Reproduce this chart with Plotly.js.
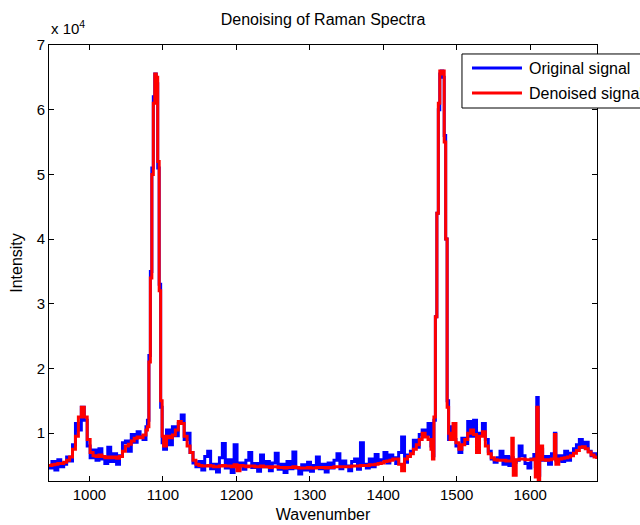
<!DOCTYPE html>
<html>
<head>
<meta charset="utf-8">
<script src="https://cdn.plot.ly/plotly-3.0.1.min.js"></script>
<style>html,body{margin:0;padding:0;background:#fff;}#chart{width:640px;height:525px;}</style>
</head>
<body>
<div id="chart"></div>
<script>
// Wavenumber axis samples (cm^-1)
var wavenumber = [
 945,949,953,957,961,965,969,973,977,981,985,989,993,997,
 1001,1005,1009,1013,1017,1021,1025,1029,1033,1037,1041,1045,1049,1053,1057,1061,1065,1069,1073,1077,
 1079,1081,1083,1085,1087,1089,1091,1093,1095,1097,1099,
 1101,1105,1109,1113,1117,1121,1125,1129,1133,1137,1141,1145,
 1149,1153,1157,1161,1165,1169,1173,1177,1181,1185,1189,1193,1197,
 1201,1205,1209,1213,1217,1221,1225,1229,1233,1237,1241,1245,1249,1253,1257,1261,1265,1269,1273,1277,1281,1285,1289,1293,1297,
 1301,1305,1309,1313,1317,1321,1325,1329,1333,1337,1341,1345,1349,1353,1357,1361,1365,1369,1373,1377,1381,1385,1389,1393,1397,
 1401,1405,1409,1413,1417,1421,1425,1429,1433,1437,1441,1445,1449,1453,1457,1461,1465,1467,
 1469,1471,1473,1475,1477,1479,1481,1483,1485,1487,1489,
 1491,1495,1499,1503,1507,1511,1515,1519,1523,1527,1531,1535,1539,1543,1547,
 1551,1555,1559,1563,1567,1571,1575,1577,1581,1585,1589,1593,1597,
 1601,1605,1607,1609,1611,1613,1617,1621,1625,1629,1633,1635,1639,1643,1647,
 1651,1655,1659,1663,1667,1671,1675,1679,1683,1687,1691
];

// Original (noisy) signal intensity
var originalSignal = [
 4600,5600,4300,5900,4800,5200,6300,5700,8200,11500,10500,14000,12000,8000,
 6200,7400,5800,7600,6000,5300,7800,5600,6800,5200,6500,8500,8800,7200,9800,8600,10200,9500,9000,11000,
 12000,22000,35000,51000,62000,65500,64000,51000,33000,14000,8500,
 7500,10500,8200,11000,9600,11500,12800,9000,10000,7000,5400,4800,
 5600,4300,6400,7200,4500,5200,4000,6200,8400,4600,5900,3900,8200,
 5000,5400,4400,5800,7000,4700,5300,4100,6600,4800,5600,4200,5400,6900,4400,5200,3900,5600,4500,7100,4600,3700,5100,4300,5500,
 4100,5000,6300,4500,5200,4000,5400,4600,5800,6800,4500,5700,4900,4200,5600,6000,4400,8500,5200,4600,6000,4800,6700,5300,5900,
 7000,5400,6600,6200,5300,7000,9400,5500,6600,7200,8900,7800,9800,10500,9800,11500,8000,6500,
 12000,28000,44000,60000,65500,66000,65000,56000,40000,15000,9000,
 11000,9000,8000,7000,9200,8400,11800,9500,12000,8600,10000,11500,9000,7200,6000,
 5500,6200,7200,5200,6400,5000,6200,5500,5800,8000,6500,5300,4600,
 6000,6700,4800,15500,3500,7500,5800,6400,5200,6800,10000,5800,6500,5600,7200,
 5800,6900,7600,8200,9000,7800,8600,7200,6500,6800,6000
];

// Denoised signal intensity
var denoisedSignal = [
 5000,5100,5200,5300,5300,5500,5800,6300,7500,9500,12500,14000,12500,9000,
 7000,6500,6400,6600,6400,6200,6300,6200,6300,6100,6400,7200,8000,8300,8800,9200,9400,9300,9700,10500,
 11000,21000,34000,50000,61000,65500,65000,52000,32000,15000,9500,
 8000,9500,9300,9700,10500,11800,11500,9500,8000,7000,5800,5200,
 5000,4900,4900,5000,4900,4800,4800,4900,5000,4900,4900,4800,5100,
 4200,5000,4900,4800,4900,4900,4800,4800,4900,4800,4800,4700,4800,4800,4700,4700,4600,4700,4700,4800,4700,4600,4600,4600,4700,
 4600,4600,4700,4700,4700,4600,4700,4700,4800,4800,4800,4800,4800,4800,4900,4900,4900,5000,5000,5000,5100,5100,5200,5300,5400,
 5600,5700,5800,6000,6000,5200,4200,6000,6400,6800,7500,8200,9000,10000,9400,9000,7500,6000,
 12500,28000,44000,61000,66000,65500,66000,55000,40000,14000,10000,
 9000,11500,8500,7500,8200,9000,10000,10500,9800,7000,9500,10200,8000,6800,6200,
 5900,5800,5800,5800,5700,5700,9200,3500,5900,6000,6000,5900,5900,
 5900,6000,3200,14000,2800,8000,5900,5800,5900,6000,9800,5200,6000,6100,6200,
 6300,6500,6900,7300,7800,7900,7600,7100,6600,6300,6000
];

var xTicks = [1000, 1100, 1200, 1300, 1400, 1500, 1600];
var yTicks = [10000, 20000, 30000, 40000, 50000, 60000, 70000];
var yTickText = ['1', '2', '3', '4', '5', '6', '7'];
var seriesNames = ['Original signal', 'Denoised signal'];

var FONT = 'Liberation Sans, Arial, sans-serif';

var traces = [
  {x: wavenumber, y: originalSignal, type: 'scatter', mode: 'lines', name: seriesNames[0],
   line: {color: 'rgb(0,0,255)', width: 3, shape: 'hv'}, showlegend: false, hoverinfo: 'skip'},
  {x: wavenumber, y: denoisedSignal, type: 'scatter', mode: 'lines', name: seriesNames[1],
   line: {color: 'rgb(255,0,0)', width: 3, shape: 'hv'}, showlegend: false, hoverinfo: 'skip'}
];

// legend box geometry in paper coordinates
var lgX0 = 0.7536, lgX1 = 1.2, lgY0 = 0.8555, lgY1 = 0.9794;
var lineX0 = 0.7719, lineX1 = 0.8631, textX = 0.8723;
var rowY = [0.9472, 0.8899];
var rowColor = ['rgb(0,0,255)', 'rgb(255,0,0)'];

var shapes = [
  {type: 'rect', xref: 'paper', yref: 'paper', x0: lgX0, x1: lgX1, y0: lgY0, y1: lgY1,
   fillcolor: '#ffffff', line: {color: '#000000', width: 1}, layer: 'above'}
];
var annotations = [
  {xref: 'paper', yref: 'paper', x: 0, y: 1.039, xanchor: 'left', yanchor: 'middle',
   text: 'x 10<sup>4</sup>', showarrow: false, font: {family: FONT, size: 15, color: '#000'}}
];
for (var i = 0; i < 2; i++) {
  shapes.push({type: 'line', xref: 'paper', yref: 'paper', x0: lineX0, x1: lineX1, y0: rowY[i], y1: rowY[i],
    line: {color: rowColor[i], width: 3}, layer: 'above'});
  annotations.push({xref: 'paper', yref: 'paper', x: textX, y: rowY[i], xanchor: 'left', yanchor: 'middle',
    text: seriesNames[i], showarrow: false, font: {family: FONT, size: 16, color: '#000'}});
}

var layout = {
  width: 640, height: 525,
  margin: {l: 49, r: 43, t: 45, b: 44},
  paper_bgcolor: '#ffffff', plot_bgcolor: '#ffffff',
  font: {family: FONT, size: 15, color: '#000'},
  title: {text: 'Denoising of Raman Spectra', xref: 'paper', x: 0.5, xanchor: 'center',
          yref: 'container', y: 0.964, yanchor: 'middle', font: {family: FONT, size: 16, color: '#000'}},
  xaxis: {range: [945, 1691], tickmode: 'array', tickvals: xTicks, ticktext: xTicks.map(String),
          ticks: 'inside', ticklen: 5, tickcolor: '#000', showline: true, linecolor: '#000', linewidth: 1,
          mirror: 'ticks', showgrid: false, zeroline: false, tickfont: {size: 15},
          title: {text: 'Wavenumber', font: {size: 16}, standoff: 6}},
  yaxis: {range: [2600, 70000], tickmode: 'array', tickvals: yTicks, ticktext: yTickText,
          ticks: 'inside', ticklen: 5, tickcolor: '#000', showline: true, linecolor: '#000', linewidth: 1,
          mirror: 'ticks', showgrid: false, zeroline: false, tickfont: {size: 15},
          title: {text: 'Intensity', font: {size: 16}, standoff: 10}},
  shapes: shapes,
  annotations: annotations,
  showlegend: false
};

Plotly.newPlot('chart', traces, layout, {staticPlot: true, displayModeBar: false});
</script>
</body>
</html>
